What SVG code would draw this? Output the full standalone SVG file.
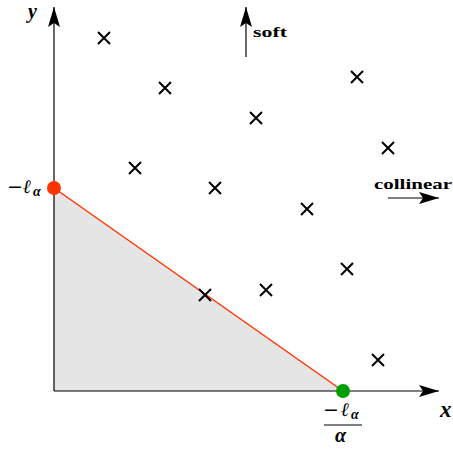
<svg xmlns="http://www.w3.org/2000/svg" width="453" height="450" viewBox="0 0 453 450">
<style>
.cross{stroke:#000;stroke-width:2;fill:none}
.axis{stroke:#000;stroke-width:1.2;fill:none}
.math{font-family:"Liberation Serif",serif;font-style:italic;font-weight:bold;fill:#000}
.mn{font-family:"DejaVu Sans",sans-serif;font-style:normal;font-weight:normal}
.lbl{font-family:"Liberation Serif",serif;font-weight:bold;font-size:15px;fill:#000}
</style>
<defs>
<marker id="ah" viewBox="0 0 20 12" refX="20" refY="6" markerWidth="20" markerHeight="12" markerUnits="userSpaceOnUse" orient="auto">
<path d="M0,0 L20,6 L0,12 L4,6 Z" fill="#000"/>
</marker>
<g id="x"><path class="cross" d="M-6,-6 L6,6 M-6,6 L6,-6"/></g>
</defs>
<g id="region">
<polygon points="54,188 54,391 343,391" fill="#e5e5e5"/>
</g>
<g id="connectors">
<line class="axis" x1="54" y1="391" x2="54" y2="7" marker-end="url(#ah)"/>
<line class="axis" x1="54" y1="391" x2="439" y2="391" marker-end="url(#ah)"/>
<line x1="54" y1="188" x2="343" y2="391" stroke="#ff3300" stroke-width="1.5"/>
<line class="axis" x1="246" y1="57" x2="246" y2="7" marker-end="url(#ah)"/>
<line class="axis" x1="388" y1="198" x2="439" y2="198" marker-end="url(#ah)"/>
</g>
<g id="points">
<use href="#x" x="104" y="38"/>
<use href="#x" x="165" y="88"/>
<use href="#x" x="357" y="77"/>
<use href="#x" x="256" y="118"/>
<use href="#x" x="388" y="148"/>
<use href="#x" x="135" y="168"/>
<use href="#x" x="215" y="188"/>
<use href="#x" x="307" y="209"/>
<use href="#x" x="347" y="269"/>
<use href="#x" x="205" y="295"/>
<use href="#x" x="266" y="290"/>
<use href="#x" x="378" y="360"/>
</g>
<g id="red-dot"><circle cx="54" cy="188" r="7" fill="#ff3300"/></g>
<g id="green-dot"><circle cx="343" cy="391" r="7" fill="#00a000"/></g>
<g id="labels">
<text class="math" x="28" y="18" font-size="20">y</text>
<text class="math" x="440" y="417" font-size="23">x</text>
<text class="math" y="193" font-size="19"><tspan class="mn" x="7">−</tspan><tspan x="23">ℓ</tspan><tspan x="33" font-size="14" dy="3">α</tspan></text>
<text class="math" y="416" font-size="19"><tspan class="mn" x="323">−</tspan><tspan x="341">ℓ</tspan><tspan x="351" font-size="14" dy="3">α</tspan></text>
<line x1="324" y1="425" x2="362" y2="425" stroke="#000" stroke-width="1"/>
<text class="math" x="335" y="442" font-size="20">α</text>
<text class="lbl" x="253" y="37" textLength="34" lengthAdjust="spacingAndGlyphs">soft</text>
<text class="lbl" x="374" y="189" textLength="78" lengthAdjust="spacingAndGlyphs">collinear</text>
</g>
</svg>
